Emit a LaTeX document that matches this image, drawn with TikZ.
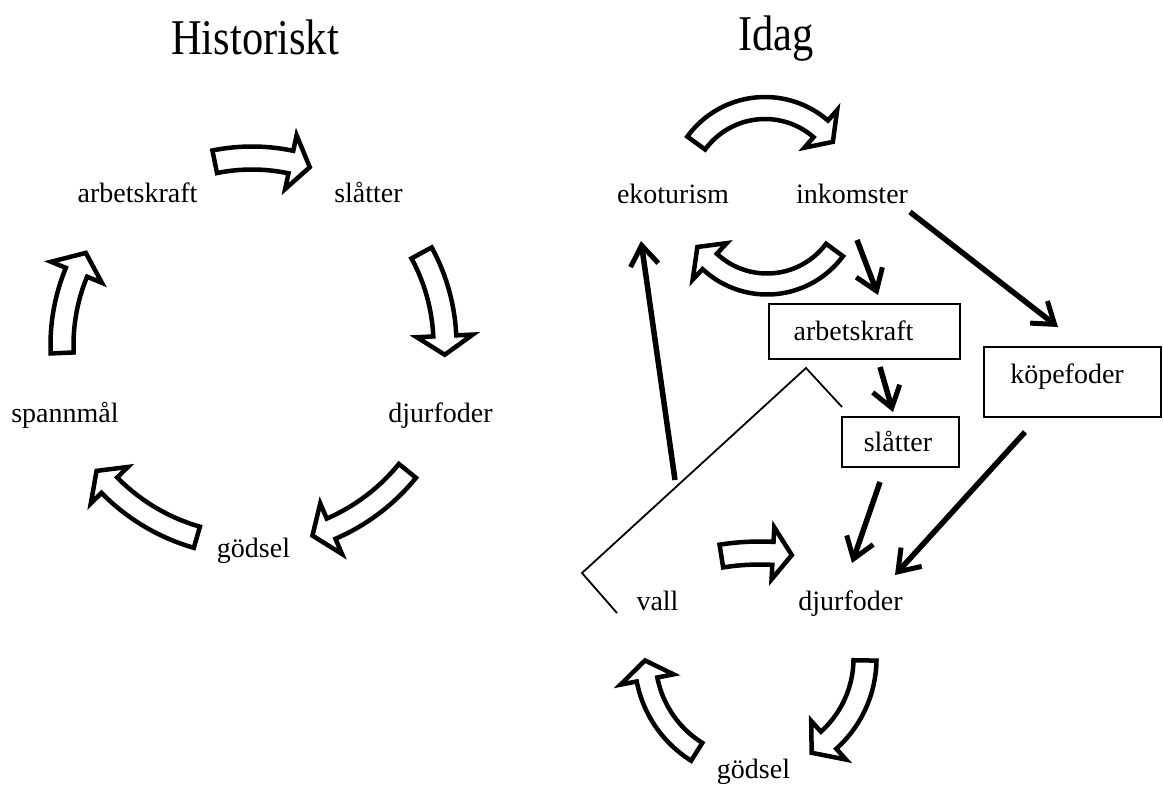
\documentclass[tikz,border=0pt]{standalone}
\usepackage{fontspec}
\setmainfont{Liberation Serif}
\newfontfamily\titlefont[FakeStretch=0.85]{Liberation Serif}
\usetikzlibrary{arrows.meta,calc}

% Hollow curved block arrow along a circle.
% #1,#2 centre; #3 mid radius; #4 tail angle; #5 angle of head base;
% #6 angle of tip; #7 shaft width; #8 head width
\newcommand{\bentarrow}[8]{%
  \draw[blockarrow]
    plot[domain=#4:#5, samples=40] ({#1+(#3+#7/2)*cos(\x)},{#2+(#3+#7/2)*sin(\x)})
    -- ({#1+(#3+#8/2)*cos(#5)},{#2+(#3+#8/2)*sin(#5)})
    -- ({#1+#3*cos(#6)},{#2+#3*sin(#6)})
    -- ({#1+(#3-#8/2)*cos(#5)},{#2+(#3-#8/2)*sin(#5)})
    -- plot[domain=#5:#4, samples=40] ({#1+(#3-#7/2)*cos(\x)},{#2+(#3-#7/2)*sin(\x)})
    -- cycle;}

\begin{document}
\begin{tikzpicture}[x=1pt,y=-1pt,
  lbl/.style={font=\fontsize{28}{32}\selectfont, inner sep=0pt, anchor=base},
  heading/.style={font=\titlefont\fontsize{50}{56}\selectfont, inner sep=0pt, anchor=base},
  box/.style={draw, line width=2pt, inner sep=0pt},
  blockarrow/.style={draw, fill=white, line width=4.5pt, line join=miter},
  arr/.style={line width=5.5pt, -{Straight Barb[length=20pt,width=28pt,line width=5pt]}},
  thinline/.style={line width=1.8pt}]

\path[use as bounding box, fill=white] (0,0) rectangle (1163,785);

% ---------- Historiskt ----------
\node[heading] (t-hist) at (255,54) {Historiskt};

\node[lbl] (h-arb) at (137.5,202) {arbetskraft};
\node[lbl] (h-sla) at (368.5,202) {slåtter};
\node[lbl] (h-dju) at (440.5,422) {djurfoder};
\node[lbl] (h-spa) at (65,422) {spannmål};
\node[lbl] (h-god) at (253.5,557) {gödsel};

\bentarrow{252}{345}{187}{-101.5}{-78}{-72}{23}{55}
\bentarrow{252}{345}{193}{-28.5}{-2.7}{2.9}{23}{56}
\bentarrow{252}{345}{200}{39}{66.7}{72.4}{22}{55}
\bentarrow{252}{345}{200}{106}{135.5}{141}{22}{52}
\bentarrow{252}{345}{190}{177.6}{202.5}{209}{23}{55}

% ---------- Idag ----------
\node[heading] (t-idag) at (776,50) {Idag};

\node[lbl] (i-eko) at (673,203) {ekoturism};
\node[lbl] (i-ink) at (852,203) {inkomster};

\node[box, minimum width=191pt, minimum height=55pt] (i-arb) at (864.5,331.5) {};
\node[lbl] (i-arb-t) at (853.5,340) {arbetskraft};
\node[box, minimum width=177pt, minimum height=70pt] (i-kop) at (1072.5,382) {};
\node[lbl] (i-kop-t) at (1067,383) {köpefoder};
\node[box, minimum width=117pt, minimum height=50pt] (i-sla) at (900.5,442) {};
\node[lbl] (i-sla-t) at (898,451.5) {slåtter};

\node[lbl] (i-vall) at (657.5,610.5) {vall};
\node[lbl] (i-dju) at (850.5,610) {djurfoder};
\node[lbl] (i-god) at (753.5,778) {gödsel};

% exchange between ekoturism and inkomster
\bentarrow{765}{193}{85}{-144}{-49}{-37}{22}{50}
\bentarrow{767}{200}{84}{36.5}{133}{146}{21}{50}

% vall to djurfoder
\bentarrow{760}{800}{247}{-99}{-87}{-82.6}{23}{52}

% djurfoder -> gödsel -> vall
\bentarrow{755}{658.5}{110}{1}{48}{59}{23}{52}
\bentarrow{755}{658.5}{110}{122}{169}{179}{21}{54}

% bracket grouping vall with arbetskraft and slåtter
\draw[thinline] (842,407) -- (806,368) -- (582,573) -- (617,613);

% end points of the straight connectors
\coordinate (ink-s1) at (857,240);
\coordinate (arb-n)  at (878,295);
\coordinate (ink-s2) at (910,212);
\coordinate (kop-n)  at (1058,327);
\coordinate (arb-s)  at (880,367);
\coordinate (sla-n)  at (893,412);
\coordinate (sla-s)  at (880,482);
\coordinate (dju-n1) at (852,563);
\coordinate (kop-s)  at (1025,432);
\coordinate (dju-n2) at (895,575);
\coordinate (grp-e)  at (675,480);
\coordinate (eko-s)  at (641,241);

\draw[arr] (ink-s1) -- (arb-n);
\draw[arr] (ink-s2) -- (kop-n);
\draw[arr] (arb-s) -- (sla-n);
\draw[arr] (sla-s) -- (dju-n1);
\draw[arr] (kop-s) -- (dju-n2);
\draw[arr] (grp-e) -- (eko-s);

\end{tikzpicture}
\end{document}
